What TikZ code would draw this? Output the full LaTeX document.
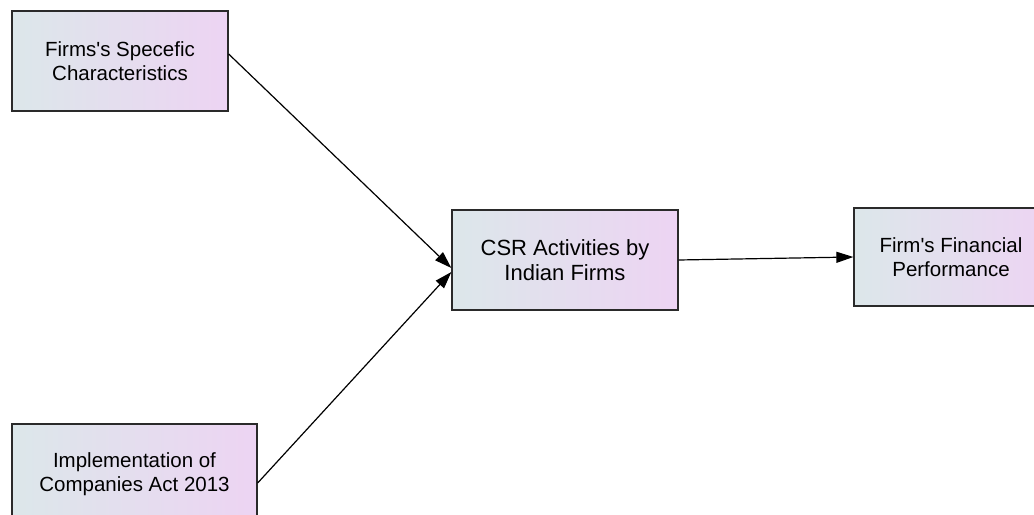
\documentclass[tikz,border=0pt]{standalone}
\usepackage{fontspec}
\setmainfont{Liberation Sans}[Ligatures=TeXOff]
\usetikzlibrary{arrows.meta}
\definecolor{boxleft}{HTML}{DCE7EA}
\definecolor{boxright}{HTML}{EDD4F3}
\definecolor{edge}{HTML}{2A2A2A}
\tikzset{
  box/.style={draw=edge, line width=1.3bp, left color=boxleft, right color=boxright,
    inner sep=0pt, align=center, font=\fontsize{20.5bp}{24bp}\selectfont},
  conn/.style={draw=black, line width=1.2bp, -{Triangle[length=17bp,width=11bp]}}
}
\begin{document}
\begin{tikzpicture}[x=1bp,y=-1bp]
\useasboundingbox (0,0) rectangle (1034,515);
\clip (0,0) rectangle (1034,515);
\fill[white] (0,0) rectangle (1034,515);
\node[box, minimum width=216bp, minimum height=100bp] (b1) at (120,61) {Firms's Specefic\\Characteristics};
\node[box, minimum width=226bp, minimum height=100bp, font=\fontsize{22bp}{25bp}\selectfont] (csr) at (565,260) {\raisebox{-4bp}{\parbox{220bp}{\centering CSR Activities by\\Indian Firms}}};
\node[box, minimum width=194bp, minimum height=98bp] (b3) at (951,257) {Firm's Financial\\Performance};
\node[box, minimum width=245bp, minimum height=100bp] (b4) at (134.5,474) {\raisebox{-5bp}{\parbox{240bp}{\centering Implementation of\\Companies Act 2013}}};
\draw[conn] ([yshift=7bp]b1.east) -- ([yshift=-8bp]csr.west);
\draw[conn] ([yshift=-9bp]b4.east) -- ([yshift=-12bp]csr.west);
\draw[conn] (csr.east) -- (b3.west);
\end{tikzpicture}
\end{document}
